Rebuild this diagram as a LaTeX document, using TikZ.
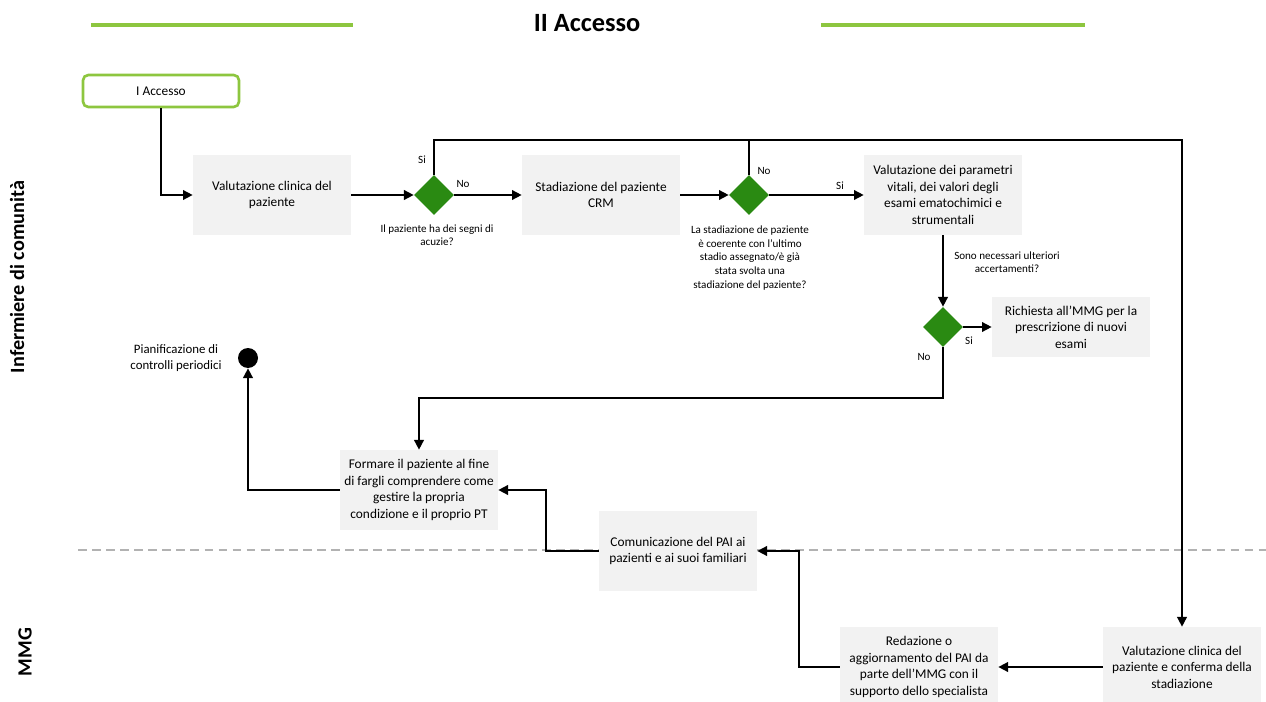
\documentclass[tikz,border=0pt]{standalone}
\usepackage{fontspec}
\setmainfont{Carlito}
\usetikzlibrary{shapes.geometric,arrows.meta}
\definecolor{boxgray}{HTML}{F2F2F2}
\definecolor{dgreen}{HTML}{2A8A12}
\definecolor{lgreen}{HTML}{8DC63F}
\begin{document}
\begin{tikzpicture}[x=0.02cm,y=-0.02cm,
  proc/.style={fill=boxgray, draw=none, minimum width=3.16cm, minimum height=1.6cm, align=center, font=\fontsize{7.6}{9.4}\selectfont, inner sep=2pt},
  dec/.style={diamond, fill=dgreen, minimum width=0.8cm, minimum height=0.8cm, inner sep=0pt},
  flow/.style={line width=0.9pt, -{Triangle[length=5.5pt,width=5.5pt]}},
  plain/.style={line width=0.9pt},
  lbl/.style={font=\fontsize{6.3}{7.7}\selectfont, align=center, inner sep=0pt},
  lane/.style={rotate=90, font=\bfseries\fontsize{11.5}{13}\selectfont, inner sep=0pt}]
\useasboundingbox (0,0) rectangle (1266,702);
% title and decoration
\draw[lgreen, line width=2.2pt] (91,25) -- (353,25);
\draw[lgreen, line width=2.2pt] (821,25) -- (1085,25);
\node[font=\bfseries\fontsize{15}{18}\selectfont] (title) at (587,23) {II Accesso};
% lanes
\draw[gray!60, line width=0.9pt, dash pattern=on 5pt off 3pt] (78,550) -- (1266,550);
\node[lane] (lane1) at (17,277) {Infermiere di comunità};
\node[lane] (lane2) at (25,652) {MMG};
% nodes
\node[draw=lgreen, line width=1.5pt, rounded corners=3pt, minimum width=3.12cm, minimum height=0.64cm, font=\fontsize{7.6}{9.4}\selectfont] (start) at (161,91) {I Accesso};
\node[proc] (v1) at (272,195) {Valutazione clinica del\\paziente};
\node[dec] (d1) at (434,195) {};
\node[proc] (stad) at (601,195) {Stadiazione del paziente\\CRM};
\node[dec] (d2) at (749,195) {};
\node[proc] (v3) at (943,195) {Valutazione dei parametri\\vitali, dei valori degli\\esami ematochimici e\\strumentali};
\node[dec] (d3) at (943,327) {};
\node[proc, minimum height=1.2cm] (req) at (1071,327) {Richiesta all’MMG per la\\prescrizione di nuovi\\esami};
\node[circle, fill=black, minimum size=0.4cm, inner sep=0pt] (endc) at (248,358) {};
\node[proc] (form) at (419,490) {Formare il paziente al fine\\di fargli comprendere come\\gestire la propria\\condizione e il proprio PT};
\node[proc] (com) at (678,551) {Comunicazione del PAI ai\\pazienti e ai suoi familiari};
\node[proc] (red) at (919,667) {Redazione o\\aggiornamento del PAI da\\parte dell’MMG con il\\supporto dello specialista};
\node[proc] (v8) at (1182,667) {Valutazione clinica del\\paziente e conferma della\\stadiazione};
% labels
\node[lbl] (q1) at (437,235) {Il paziente ha dei segni di\\acuzie?};
\node[lbl] (q2) at (750,258) {La stadiazione de paziente\\è coerente con l’ultimo\\stadio assegnato/è già\\stata svolta una\\stadiazione del paziente?};
\node[lbl] (q3) at (1007,262) {Sono necessari ulteriori\\accertamenti?};
\node[lbl, font=\fontsize{7.3}{8.8}\selectfont] (plan) at (176,358) {Pianificazione di\\controlli periodici};
\node[lbl] (l1) at (422,160) {Si};
\node[lbl] (l2) at (463,184) {No};
\node[lbl] (l3) at (764,171) {No};
\node[lbl] (l4) at (840,186) {Si};
\node[lbl] (l5) at (969,341) {Si};
\node[lbl] (l6) at (924,357) {No};
% connectors
\coordinate (c1) at (434,140);
\coordinate (c2) at (943,398);
\coordinate (c3) at (546,0);
\coordinate (c4) at (799,0);
\draw[flow] (start.south) |- (v1.west);
\draw[flow] (v1.east) -- (d1.west);
\draw[flow] (d1.east) -- (stad.west);
\draw[flow] (d1.north) -- (c1) -| (v8.north);
\draw[plain] (d2.north) -- (d2.north |- c1);
\draw[flow] (stad.east) -- (d2.west);
\draw[flow] (d2.east) -- (v3.west);
\draw[flow] (v3.south) -- (d3.north);
\draw[flow] (d3.east) -- (req.west);
\draw[flow] (d3.south) -- (c2) -| (form.north);
\draw[flow] (form.west) -| (endc.south);
\draw[flow] (com.west) -| (c3 |- form.east) -- (form.east);
\draw[flow] (red.west) -| (c4 |- com.east) -- (com.east);
\draw[flow] (v8.west) -- (red.east);
\end{tikzpicture}
\end{document}
